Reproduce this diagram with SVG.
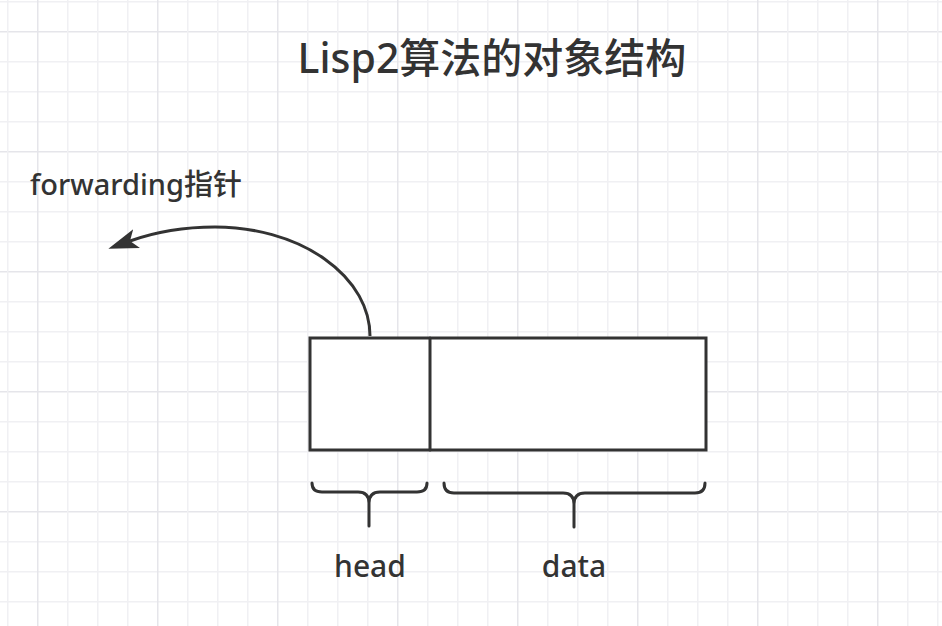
<svg xmlns="http://www.w3.org/2000/svg" width="942" height="626" viewBox="0 0 942 626">
<style>
.t{font-family:"Noto Sans","Noto Sans CJK SC",sans-serif;fill:#333;font-weight:500}
.box{fill:#fff;stroke:#333;stroke-width:3}
.ln{fill:none;stroke:#333;stroke-width:3;stroke-linecap:round;stroke-linejoin:round}
</style>
<defs>
<pattern id="grid" patternUnits="userSpaceOnUse" x="7" y="1" width="120" height="120">
<rect x="0" y="0" width="120" height="120" fill="#fff"/>
<rect x="0" y="0" width="120" height="1.5" fill="#f0f0f3"/>
<rect x="0" y="60" width="120" height="1.5" fill="#f0f0f3"/>
<rect x="0" y="90" width="120" height="1.5" fill="#f0f0f3"/>
<rect x="0" y="30" width="120" height="1.5" fill="#e5e5ea"/>
<rect x="0" y="0" width="1.5" height="120" fill="#f0f0f3"/>
<rect x="60" y="0" width="1.5" height="120" fill="#f0f0f3"/>
<rect x="90" y="0" width="1.5" height="120" fill="#f0f0f3"/>
<rect x="30" y="0" width="1.5" height="120" fill="#e5e5ea"/>
</pattern>
<marker id="arr" markerUnits="userSpaceOnUse" viewBox="0 0 30 20" markerWidth="30" markerHeight="20" refX="7" refY="10" orient="auto">
<path d="M0,0 L30,10 L0,20 L7,10 Z" fill="#333"/>
</marker>
</defs>
<rect width="942" height="626" fill="url(#grid)"/>
<g id="title"><text class="t" x="492" y="73" font-size="41" text-anchor="middle">Lisp2算法的对象结构</text></g>
<g id="forwarding-label"><text class="t" x="30" y="195" font-size="29">forwarding指针</text></g>
<g id="object">
<rect class="box" x="310" y="338" width="396" height="112"/>
<line class="ln" x1="430" y1="338" x2="430" y2="450" stroke-linecap="butt"/>
</g>
<g id="connectors">
<path d="M370,336 A155,109 0 0 0 215,227 C185,227 155,232 130,241" fill="none" stroke="#333" stroke-width="3" marker-end="url(#arr)"/>
</g>
<g id="head-brace">
<path class="ln" d="M312,483 Q312,492 322,492 L358,492 Q369,492 369,503 L369,526 M369,503 Q369,492 380,492 L417,492 Q427,492 427,483"/>
<text class="t" x="370" y="577" font-size="30" text-anchor="middle">head</text>
</g>
<g id="data-brace">
<path class="ln" d="M444,483 Q444,493 454,493 L563,493 Q574,493 574,504 L574,527 M574,504 Q574,493 585,493 L695,493 Q705,493 705,483"/>
<text class="t" x="574" y="577" font-size="30" text-anchor="middle">data</text>
</g>
</svg>
